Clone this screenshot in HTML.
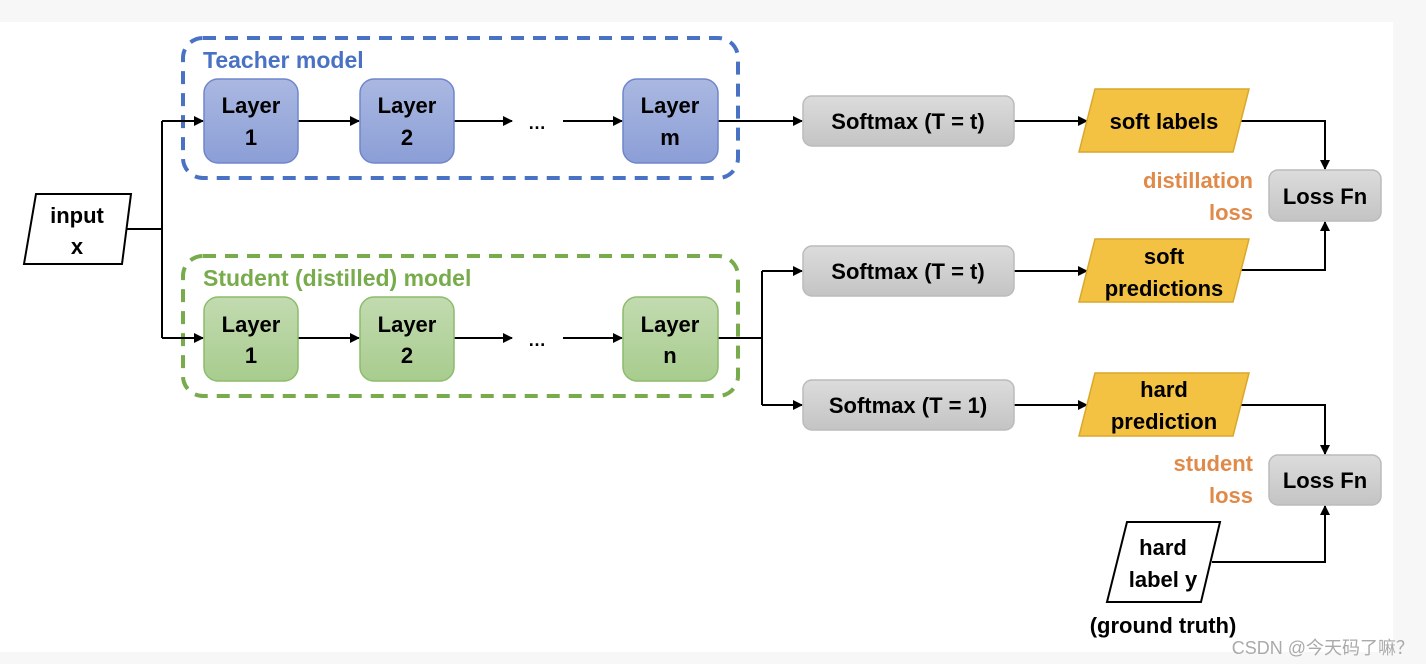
<!DOCTYPE html>
<html><head><meta charset="utf-8"><style>
body{margin:0;width:1426px;height:664px;background:#f7f7f7;overflow:hidden}
svg{display:block}
text{font-family:"Liberation Sans","Noto Sans CJK SC",sans-serif;font-weight:bold}
</style></head><body>
<svg width="1426" height="664" viewBox="0 0 1426 664" xmlns="http://www.w3.org/2000/svg">
<defs>
<linearGradient id="gb" x1="0" y1="0" x2="0" y2="1"><stop offset="0" stop-color="#aab8e1"/><stop offset="1" stop-color="#8b9ed6"/></linearGradient>
<linearGradient id="gg" x1="0" y1="0" x2="0" y2="1"><stop offset="0" stop-color="#c2dbb0"/><stop offset="1" stop-color="#a8cc8e"/></linearGradient>
<linearGradient id="gr" x1="0" y1="0" x2="0" y2="1"><stop offset="0" stop-color="#dcdcdc"/><stop offset="1" stop-color="#c4c4c4"/></linearGradient>
<marker id="a" markerWidth="10" markerHeight="10" refX="9" refY="5" orient="auto" markerUnits="userSpaceOnUse"><path d="M0,0 L10,5 L0,10 z" fill="#000"/></marker>
</defs>
<rect x="0" y="22" width="1393" height="630" fill="#fff"/>
<rect x="183" y="38" width="555" height="140" rx="20" fill="none" stroke="#4a72c4" stroke-width="4" stroke-dasharray="13,9"/>
<rect x="183" y="256" width="555" height="140" rx="20" fill="none" stroke="#77ab4b" stroke-width="4" stroke-dasharray="13,9"/>
<text x="203" y="68" font-size="23" fill="#4a72c4">Teacher model</text>
<text x="203" y="286" font-size="23" fill="#77ab4b">Student (distilled) model</text>
<g stroke="#000" stroke-width="2" fill="none">
<path d="M122,229 H162 M162,121 V338"/>
<path d="M162,121 H203" marker-end="url(#a)"/>
<path d="M162,338 H203" marker-end="url(#a)"/>
<path d="M298,121 H359" marker-end="url(#a)"/>
<path d="M453,121 H512" marker-end="url(#a)"/>
<path d="M563,121 H622" marker-end="url(#a)"/>
<path d="M298,338 H359" marker-end="url(#a)"/>
<path d="M453,338 H512" marker-end="url(#a)"/>
<path d="M563,338 H622" marker-end="url(#a)"/>
<path d="M718,121 H802" marker-end="url(#a)"/>
<path d="M718,338 H762 M762,271 V405"/>
<path d="M762,271 H802" marker-end="url(#a)"/>
<path d="M762,405 H802" marker-end="url(#a)"/>
<path d="M1014,121 H1087" marker-end="url(#a)"/>
<path d="M1014,271 H1087" marker-end="url(#a)"/>
<path d="M1014,405 H1087" marker-end="url(#a)"/>
<path d="M1241,121 H1325 V169" marker-end="url(#a)"/>
<path d="M1241,270 H1325 V222" marker-end="url(#a)"/>
<path d="M1241,405 H1325 V454" marker-end="url(#a)"/>
<path d="M1212,562 H1325 V506" marker-end="url(#a)"/>
</g>
<polygon points="36,194 131,194 122,264 24,264" fill="#fff" stroke="#000" stroke-width="2"/>
<text x="77" y="223" font-size="22" text-anchor="middle">input</text>
<text x="77" y="254" font-size="22" text-anchor="middle">x</text>
<g stroke="#6f86cc" stroke-width="1.5" fill="url(#gb)">
<rect x="204" y="79" width="94" height="84" rx="14"/>
<rect x="360" y="79" width="94" height="84" rx="14"/>
<rect x="623" y="79" width="95" height="84" rx="14"/>
</g>
<g stroke="#8cbc6c" stroke-width="1.5" fill="url(#gg)">
<rect x="204" y="297" width="94" height="84" rx="14"/>
<rect x="360" y="297" width="94" height="84" rx="14"/>
<rect x="623" y="297" width="95" height="84" rx="14"/>
</g>
<g font-size="22" text-anchor="middle">
<text x="251" y="113">Layer</text><text x="251" y="145">1</text>
<text x="407" y="113">Layer</text><text x="407" y="145">2</text>
<text x="670" y="113">Layer</text><text x="670" y="145">m</text>
<text x="251" y="332">Layer</text><text x="251" y="363">1</text>
<text x="407" y="332">Layer</text><text x="407" y="363">2</text>
<text x="670" y="332">Layer</text><text x="670" y="363">n</text>
<text x="537" y="129" font-size="18">…</text><text x="537" y="346" font-size="18">…</text>
</g>
<g stroke="#bbb" stroke-width="1.5" fill="url(#gr)">
<rect x="803" y="96" width="211" height="50" rx="9"/>
<rect x="803" y="246" width="211" height="50" rx="9"/>
<rect x="803" y="380" width="211" height="50" rx="9"/>
<rect x="1269" y="170" width="112" height="51" rx="9"/>
<rect x="1269" y="455" width="112" height="50" rx="9"/>
</g>
<g font-size="22" text-anchor="middle">
<text x="908" y="129">Softmax (T = t)</text>
<text x="908" y="279">Softmax (T = t)</text>
<text x="908" y="413">Softmax (T = 1)</text>
<text x="1325" y="204">Loss Fn</text>
<text x="1325" y="488">Loss Fn</text>
</g>
<g fill="#f4c242" stroke="#d9a72c" stroke-width="1.5">
<polygon points="1095,89 1249,89 1233,152 1079,152"/>
<polygon points="1095,239 1249,239 1233,302 1079,302"/>
<polygon points="1095,373 1249,373 1233,436 1079,436"/>
</g>
<g font-size="22" text-anchor="middle">
<text x="1164" y="129">soft labels</text>
<text x="1164" y="264">soft</text><text x="1164" y="296">predictions</text>
<text x="1164" y="397">hard</text><text x="1164" y="429">prediction</text>
</g>
<polygon points="1127,522 1220,522 1201,602 1107,602" fill="#fff" stroke="#000" stroke-width="2"/>
<g font-size="22" text-anchor="middle">
<text x="1163" y="555">hard</text><text x="1163" y="587">label y</text>
<text x="1163" y="633">(ground truth)</text>
</g>
<g font-size="22" fill="#e08a4a" text-anchor="end">
<text x="1253" y="188">distillation</text><text x="1253" y="220">loss</text>
<text x="1253" y="471">student</text><text x="1253" y="503">loss</text>
</g>
<text x="1414" y="654" font-size="18" fill="#aaa" text-anchor="end" style="font-weight:normal">CSDN @今天码了嘛？</text>
</svg>
</body></html>
